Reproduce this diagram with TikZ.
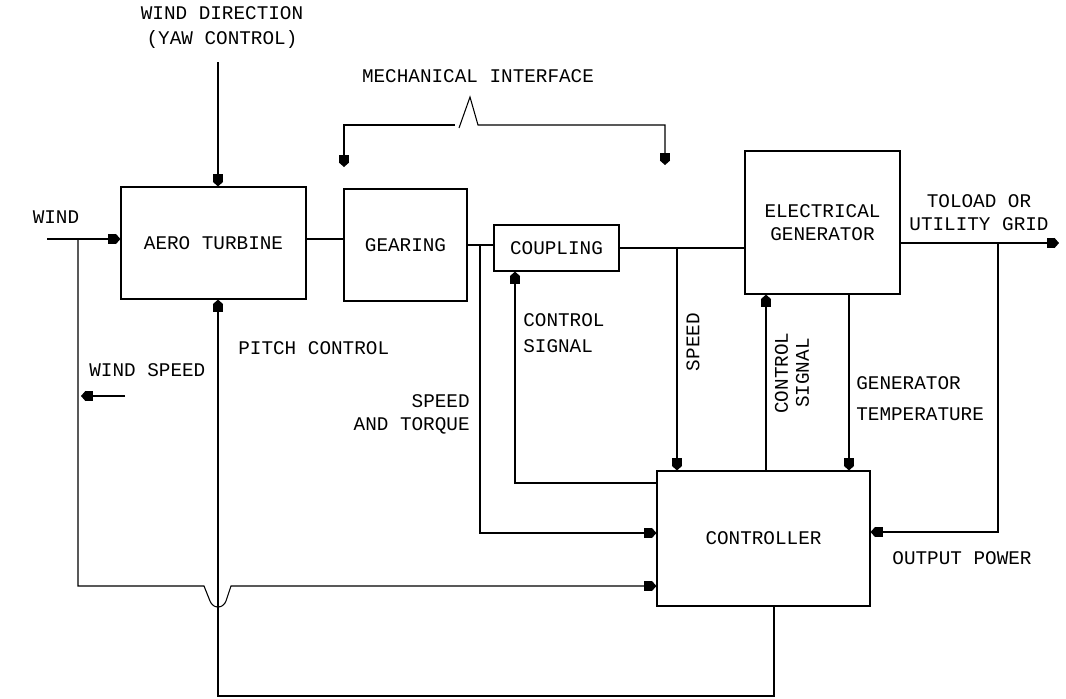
\documentclass[tikz,border=0pt]{standalone}
\usepackage{fontspec}
\setmonofont{Liberation Mono}
\usetikzlibrary{arrows.meta,calc}

\begin{document}
\begin{tikzpicture}[x=0.02cm,y=-0.02cm,
    >={Square[length=1.5mm,width=2mm,sep=0pt]Triangle[length=0.9mm,width=2mm]},
    every node/.style={font=\ttfamily\fontsize{11}{13}\selectfont,inner sep=0pt},
    blk/.style={draw,line width=0.7pt,align=center},
    wire/.style={line width=0.6pt}]
  \useasboundingbox (0,0) rectangle (1066,698);
  % blocks
  \node[blk,minimum width=3.7cm,minimum height=2.24cm] (turbine) at (213.5,243) {AERO TURBINE};
  \node[blk,minimum width=2.46cm,minimum height=2.24cm] (gearing) at (405.5,245) {GEARING};
  \node[blk,minimum width=2.5cm,minimum height=0.92cm] (coupling) at (556.5,248) {COUPLING};
  \node[blk,minimum width=3.1cm,minimum height=2.86cm] (generator) at (822.5,222.5) {ELECTRICAL\\GENERATOR};
  \node[blk,minimum width=4.26cm,minimum height=2.7cm] (controller) at (763.5,538.5) {CONTROLLER};
  % free ends and taps
  \coordinate (wind) at (47,239);
  \coordinate (windtap) at (78,239);
  \coordinate (windin) at (78,586);
  \coordinate (yaw) at (218,62);
  \coordinate (pitchbot) at (774,696);
  \coordinate (pitchcorner) at (218,696);
  \coordinate (geartap) at (480,245);
  \coordinate (speedtap) at (677,248);
  \coordinate (couplesig) at (515,483);
  \coordinate (powertap) at (998,243);
  \coordinate (grid) at (1059,243);
  \coordinate (mechl) at (344,167);
  \coordinate (mechr) at (665,165);
  \coordinate (wsa) at (125,396);
  \coordinate (wsb) at (81,396);
  % connectors
  \draw[wire,->] (wind) -- (wind -| turbine.west);
  \draw[wire,->] (windtap) -- (windin) -- (204,586) -- (210,601) .. controls (213,609) and (223,609) .. (226,601) -- (231,586) -- (controller.west |- windin);
  \draw[wire,->] (yaw) -- (yaw |- turbine.north);
  \draw[wire,->] (pitchbot |- controller.south) -- (pitchbot) -- (pitchcorner) -- (pitchcorner |- turbine.south);
  \draw[wire] (turbine.east |- windtap) -- (gearing.west |- windtap);
  \draw[wire] (gearing.east |- geartap) -- (coupling.west |- geartap);
  \draw[wire,->] (geartap) |- ($(controller.west)+(0,-5.5)$);
  \draw[wire] (coupling.east) -- (coupling.east -| generator.west);
  \draw[wire,->] (speedtap) -- (speedtap |- controller.north);
  \draw[wire,->] (controller.west |- couplesig) -- (couplesig) -- (couplesig |- coupling.south);
  \draw[wire,->] ($(controller.north)+(2.5,0)$) coordinate (ctrlsig) -- (ctrlsig |- generator.south);
  \draw[wire,->] ($(generator.south)+(26.5,0)$) coordinate (gentemp) -- (gentemp |- controller.north);
  \draw[wire,->] (generator.east |- grid) -- (grid);
  \draw[wire,->] (powertap) |- ($(controller.east)+(0,-6.5)$);
  \draw[wire,->] (wsa) -- (wsb);
  % mechanical interface bracket
  \draw[wire,->] (455,125) -- (344,125) -- (mechl);
  \draw[wire,->] (459,128) -- (470,97) -- (478,125) -- (665,125) -- (mechr);
  % labels
  \node[align=center] (yawlbl) at (222,28) {WIND DIRECTION\\[1.2pt](YAW CONTROL)};
  \node (mechlbl) at (478,76) {MECHANICAL INTERFACE};
  \node (windlbl) at (56,217) {WIND};
  \node[align=center] (gridlbl) at (979,212.5) {TOLOAD OR\\UTILITY GRID};
  \node[anchor=west] (pitchlbl) at (238,348) {PITCH CONTROL};
  \node[anchor=west] (wslbl) at (89,370) {WIND SPEED};
  \node[anchor=west,align=left] (cslbl) at (523,333) {CONTROL\\[1.7pt]SIGNAL};
  \node[anchor=east,align=right] (stlbl) at (470,414.5) {SPEED\\AND TORQUE};
  \node[rotate=90] (speedlbl) at (693,342) {SPEED};
  \node[rotate=90,align=center] (gcslbl) at (792,373) {CONTROL\\[-1pt]SIGNAL};
  \node[anchor=west,align=left] (templbl) at (856,398.5) {GENERATOR\\[4.6pt]TEMPERATURE};
  \node (powerlbl) at (962,558) {OUTPUT POWER};
\end{tikzpicture}
\end{document}
